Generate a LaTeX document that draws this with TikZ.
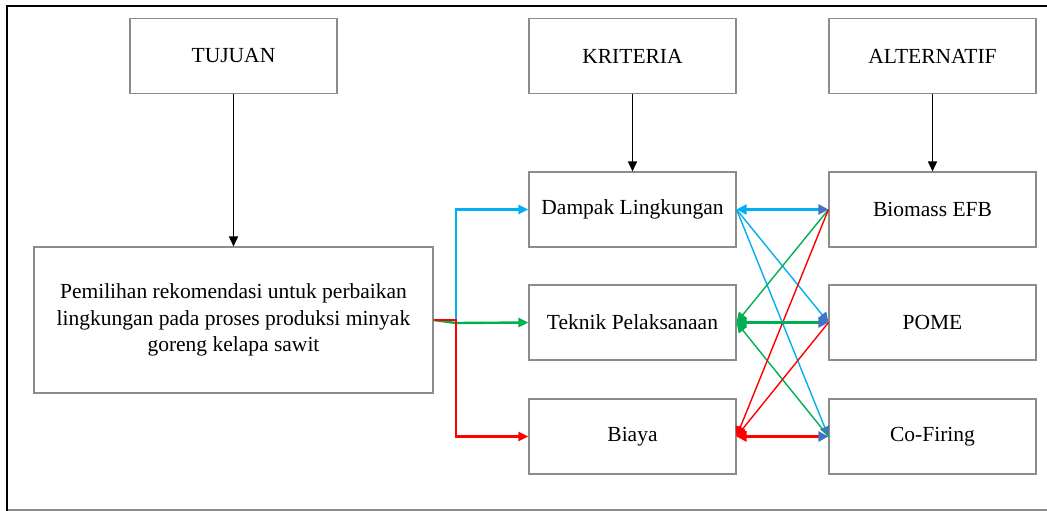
\documentclass[tikz,border=0pt]{standalone}
\usepackage{fontspec}
\setmainfont{Liberation Serif}
\usetikzlibrary{arrows.meta}
\definecolor{cblue}{HTML}{00B0F0}
\definecolor{cgreen}{HTML}{00B050}
\definecolor{cred}{HTML}{FF0000}
\definecolor{hblue}{HTML}{4472C4}
\definecolor{bgray}{HTML}{8C8C8C}
\begin{document}
\begin{tikzpicture}[x=1pt,y=-1pt,
  box/.style={draw=bgray,line width=1.1pt,minimum width=207pt,minimum height=75pt,inner sep=2pt,align=center,font=\fontsize{21.5}{26.5}\selectfont},
  tipk/.style={-{Triangle[length=10pt,width=9pt]}},
  hl/.style={line width=2.4pt},
  dl/.style={line width=1.4pt},
  bh/.style={-{Triangle[length=10pt,width=10pt,color=hblue]}},
  bothb/.style={{Triangle[length=10pt,width=10pt]}-{Triangle[length=10pt,width=10pt,color=hblue]}},
  lefth/.style={{Triangle[length=10pt,width=10pt]}-}
]
\useasboundingbox (0,0) rectangle (1047,511);
\fill[white] (0,0) rectangle (1047,511);
% outer frame
\draw[bgray,line width=1.4pt] (7,510) -- (1047,510);
\draw[black,line width=2.6pt] (7,511) -- (7,6) -- (1047,6);

% nodes
\node[box] (tujuan) at (233.5,56) {TUJUAN};
\node[box] (kriteria) at (632.5,56) {KRITERIA};
\node[box] (alternatif) at (932.5,56) {ALTERNATIF};
\node[box,minimum width=399pt,minimum height=146pt] (goal) at (233.5,320) {Pemilihan rekomendasi untuk perbaikan\\lingkungan pada proses produksi minyak\\goreng kelapa sawit};
\node[box] (dampak) at (632.5,209.5) {Dampak Lingkungan};
\node[box] (teknik) at (632.5,322.5) {Teknik Pelaksanaan};
\node[box] (biaya) at (632.5,436.5) {Biaya};
\node[box] (biomass) at (932.5,209.5) {Biomass EFB};
\node[box] (pome) at (932.5,322.5) {POME};
\node[box] (cofiring) at (932.5,436.5) {Co-Firing};

% vertical black arrows
\draw[tipk,line width=1.6pt] (tujuan.south) -- (goal.north);
\draw[tipk,line width=1.6pt] (kriteria.south) -- (dampak.north);
\draw[tipk,line width=1.6pt] (alternatif.south) -- (biomass.north);

% goal to criteria
\coordinate (j) at (456,320);
\coordinate (jg) at (456,323);
\draw[cblue,hl,tipk] (j) |- (dampak.west);
\draw[cgreen,hl,tipk] (goal.east) -- (jg) -- (teknik.west);
\draw[cred,hl,tipk] (goal.east) -- (j) |- (biaya.west);

% criteria to alternatives
\draw[cblue,dl,bh] (dampak.east) -- (pome.west);
\draw[cblue,dl,bh] (dampak.east) -- (cofiring.west);
\draw[cgreen,dl,lefth] (teknik.east) -- (biomass.west);
\draw[cgreen,dl,lefth] (teknik.east) -- (cofiring.west);
\draw[cred,dl,lefth] (biaya.east) -- (biomass.west);
\draw[cred,dl,lefth] (biaya.east) -- (pome.west);
\draw[cblue,hl,bothb] (dampak.east) -- (biomass.west);
\draw[cgreen,hl,bothb] (teknik.east) -- (pome.west);
\draw[cred,hl,bothb] (biaya.east) -- (cofiring.west);
\end{tikzpicture}
\end{document}
